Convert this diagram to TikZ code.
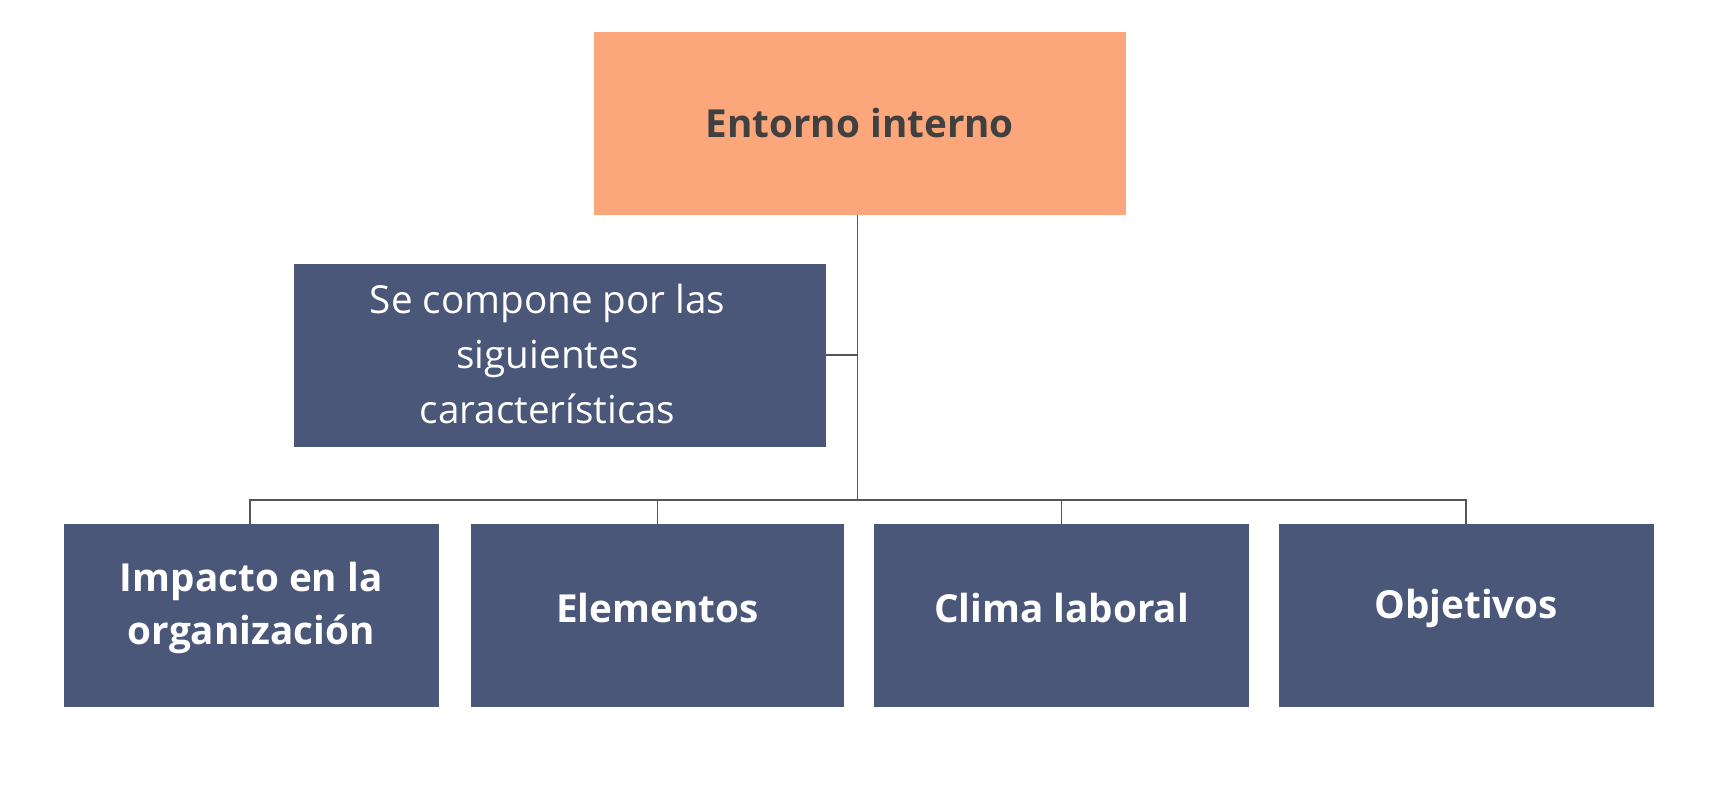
\documentclass[tikz,border=0pt]{standalone}
\usepackage{fontspec}
\setmainfont{Open Sans}
\definecolor{orng}{HTML}{FCA67B}
\definecolor{navy}{HTML}{4A5778}
\definecolor{dtext}{HTML}{404040}
\definecolor{lgray}{HTML}{555555}
\begin{document}
\begin{tikzpicture}[x=0.02cm,y=-0.02cm,
  box/.style={inner sep=0,align=center,text=white,font=\fontsize{20}{27}\selectfont\bfseries},
  conn/.style={draw=lgray,line width=0.9pt}]
\useasboundingbox (0,0) rectangle (1568,715);
\fill[orng] (540,29) rectangle (1024,196);
\node[box,text=dtext] (top) at (782,112) {Entorno interno};
\coordinate (topb) at (780,196);
\fill[navy] (267,240) rectangle (751,407);
\node[box,font=\fontsize{20}{28.5}\selectfont] (mid) at (498,322) {Se compone por las\\siguientes\\características};
\coordinate (midr) at (751,323);
\coordinate (j1) at (780,323);
\coordinate (j2) at (780,455);
\foreach \n/\a/\b/\t in {b1/58/399/{Impacto en la\\organización},b2/428/768/Elementos,b3/795/1136/Clima laboral,b4/1163/1504/Objetivos}{
  \fill[navy] (\a,477) rectangle (\b,643);
  \node[box] (\n) at ({(\a+\b)/2},553) {\t};
  \coordinate (\n t) at ({(\a+\b)/2+(\a<100?-1:0)},477);
}
\draw[conn] (topb) -- (j2);
\draw[conn] (midr) -- (j1);
\draw[conn] (b1t) |- (j2) -| (b4t);
\draw[conn] (b2t) -- (b2t |- j2);
\draw[conn] (b3t) -- (b3t |- j2);
\end{tikzpicture}
\end{document}
